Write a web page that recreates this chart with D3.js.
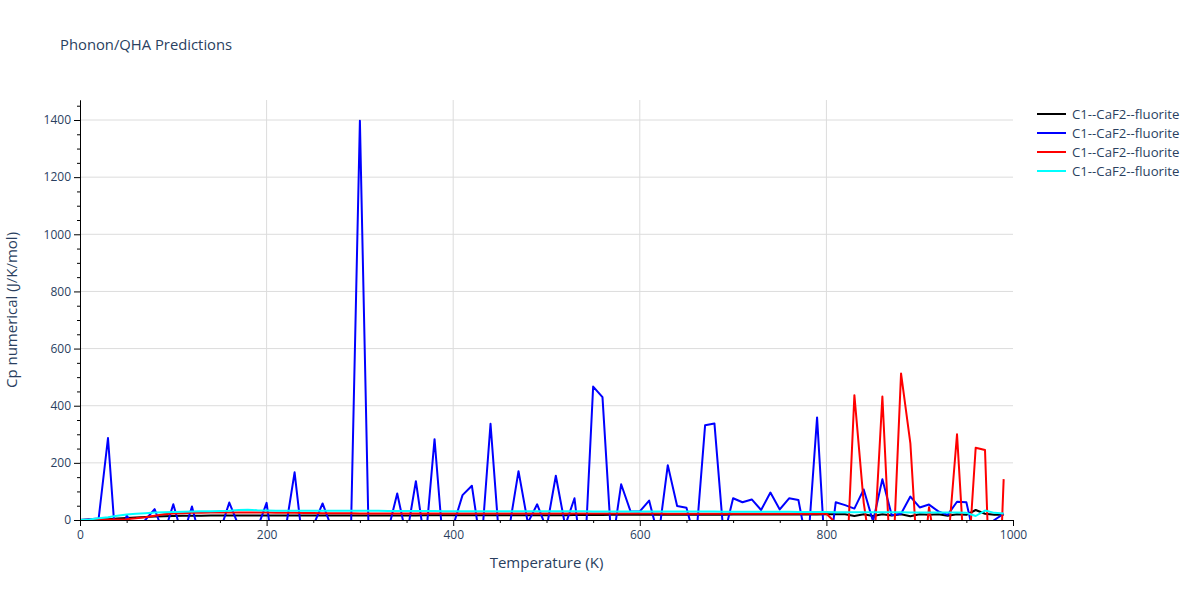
<!DOCTYPE html>
<html>
<head>
<meta charset="utf-8">
<script src="https://cdn.jsdelivr.net/npm/d3@7"></script>
<style>
  body { margin: 0; background: #fff; }
  svg { font-family: "Open Sans", verdana, arial, sans-serif; }
</style>
</head>
<body>
<svg id="chart" width="1200" height="600"></svg>
<script>
// ---- data ----
const temperatures = d3.range(0, 1000, 10);
const seriesNames = ["C1--CaF2--fluorite", "C1--CaF2--fluorite", "C1--CaF2--fluorite", "C1--CaF2--fluorite"];
const seriesColors = ["#000000", "#0000ff", "#ff0000", "#00ffff"];

const cpBlack = [0,0.5,1.5,3,5,7,9,10.5,12,13, 14,14.5,15,15,15.5,15.5,16,16,16,16,
  16,16,16,16,16,16,16,16,16,16, 16,16,16,16,16,16,16,16.5,16.5,16.5,
  16.5,16.5,16.5,16.5,17,17,17,17,17,17, 17,17,17,17.5,17.5,17.5,17.5,18,18,18,
  18,18,18,18,18,18.5,18.5,18.5,18.5,18.5, 19,19,19,19,19,19,19,19.5,19.5,19.5,
  20,20,20,14,20,14,20,16,20,13, 20,18,20,15,20,18,35,22,18,18];

const cpBlue = [0,3,5,287,-162,17,-40,0,38,-50, 55,-60,47,-80,-30,-40,61,-20,-50,-30,
  60,-180,-40,167,-120,-20,58,-30,-60,-100, 1397,-150,-20,-40,93,-60,136,-90,283,-120,
  -20,87,120,-100,337,-100,-30,171,-10,55, -30,155,-20,76,-200,467,430,-100,125,31,
  30,68,-60,192,49,43,-80,332,338,-60, 76,62,72,35,96,37,76,70,-100,359,
  -200,62,52,40,107,-5,143,17,22,82, 44,54,30,18,64,62,-80,-30,0,22];

const cpRed = [0,0.5,1,1.5,2,3,6,10,15,20, 23,24,25,25.5,26,26,26,26.5,26.5,26,
  26,25.5,25,25,24.5,24.5,24,24,23.5,23.5, 23,23,23,23,23,23,23,23,23,23,
  23,23,23,23,23,23,23,23,23,23, 23,23,22.5,22.5,22.5,22.5,22.5,22.5,22.5,22.5,
  22.5,22.5,22.5,22,22,22,22,22,22,22, 22,22,22,22,22,22,22,22,22,22,
  22,-10,-290,437,60,-160,432,-250,513,268, -268,45,-150,-100,300,-250,253,245,-700,143];

const cpCyan = [0,2,6,10,15,19,22,24,26,27, 28,29,30,30.5,31,31.5,32,35,36,34,
  33,32,32,32,32,32,32,32,32,32, 32,32,32,31.5,31.5,31.5,31.5,31.5,31.5,31,
  31,31,31,31,31,31,31,31,31,31, 30.5,30.5,30.5,30.5,30.5,30,30,30,30,30,
  30,30,30,30,29.5,29.5,29.5,29.5,29.5,29, 29,29,29,28.5,28.5,28.5,28.5,28,28,28,
  28,27.5,27.5,27,27,27,27,27,27,26.5, 26.5,26.5,26.5,26,26,25,14,33,25,23];

const xTicks = [0, 200, 400, 600, 800, 1000];
const yTicks = [0, 200, 400, 600, 800, 1000, 1200, 1400];
const titleText = "Phonon/QHA Predictions";
const xTitle = "Temperature (K)";
const yTitle = "Cp numerical (J/K/mol)";

const seriesValues = [cpBlack, cpBlue, cpRed, cpCyan];

// ---- layout ----
const svg = d3.select("#chart");
const plot = { left: 80, right: 1013, top: 100, bottom: 520 };
const textColor = "#2a3f5f";
const gridColor = "#dcdcdc";

const x = d3.scaleLinear().domain([0, 1000]).range([plot.left, plot.right]);
const y = d3.scaleLinear().domain([0, 1470]).range([plot.bottom, plot.top]);

// grid
const gridG = svg.append("g");
gridG.selectAll("line.gx").data(xTicks.filter(t => t > 0 && t < 1000)).enter().append("line")
  .attr("x1", d => x(d)).attr("x2", d => x(d))
  .attr("y1", plot.top).attr("y2", plot.bottom)
  .attr("stroke", gridColor).attr("stroke-width", 1);
gridG.selectAll("line.gy").data(yTicks.filter(t => t > 0)).enter().append("line")
  .attr("x1", plot.left).attr("x2", plot.right)
  .attr("y1", d => y(d)).attr("y2", d => y(d))
  .attr("stroke", gridColor).attr("stroke-width", 1);

// clip
svg.append("clipPath").attr("id", "clip").append("rect")
  .attr("x", plot.left).attr("y", plot.top)
  .attr("width", plot.right - plot.left).attr("height", plot.bottom - plot.top);

const line = d3.line().x((d, i) => x(temperatures[i])).y(d => y(d));
const linesG = svg.append("g").attr("clip-path", "url(#clip)");
seriesValues.forEach((vals, k) => {
  linesG.append("path").datum(vals)
    .attr("d", line)
    .attr("fill", "none")
    .attr("stroke", seriesColors[k])
    .attr("stroke-width", 2)
    .attr("stroke-linejoin", "round");
});

// axes
const fmt = d3.format("d");
const xAxis = d3.axisBottom(x).tickValues(xTicks).tickSize(6).tickSizeOuter(0).tickPadding(4).tickFormat(fmt);
const xAxisMinor = d3.axisBottom(x).tickValues(d3.range(50, 1000, 50).filter(v => v % 200 !== 0)).tickSize(3).tickFormat("").tickSizeOuter(0);
const yAxis = d3.axisLeft(y).tickValues(yTicks).tickSize(6).tickSizeOuter(0).tickPadding(3).tickFormat(fmt);
const yAxisMinor = d3.axisLeft(y).tickValues(d3.range(50, 1470, 50).filter(v => v % 200 !== 0)).tickSize(3).tickFormat("").tickSizeOuter(0);

function styleAxis(g) {
  g.select(".domain").attr("stroke", "#000").attr("stroke-width", 1);
  g.selectAll(".tick line").attr("stroke", "#000");
  g.selectAll(".tick text").attr("fill", textColor).style("font-size", "12px")
    .style("font-family", '"Open Sans", verdana, arial, sans-serif');
}

svg.append("g").attr("transform", `translate(0,${plot.bottom})`).call(xAxisMinor).call(styleAxis);
svg.append("g").attr("transform", `translate(0,${plot.bottom})`).call(xAxis).call(styleAxis);
svg.append("g").attr("transform", `translate(${plot.left},0)`).call(yAxisMinor).call(styleAxis);
svg.append("g").attr("transform", `translate(${plot.left},0)`).call(yAxis).call(styleAxis);

// titles
svg.append("text").attr("x", 60).attr("y", 50).text(titleText)
  .attr("fill", textColor).style("font-size", "14.8px");
svg.append("text").attr("x", (plot.left + plot.right) / 2).attr("y", 568)
  .attr("text-anchor", "middle").text(xTitle)
  .attr("fill", textColor).style("font-size", "15px");
svg.append("text")
  .attr("transform", `translate(17,${(plot.top + plot.bottom) / 2}) rotate(-90)`)
  .attr("text-anchor", "middle").text(yTitle)
  .attr("fill", textColor).style("font-size", "15px");

// legend
const legend = svg.append("g");
seriesNames.forEach((name, k) => {
  const ly = 114 + k * 19;
  legend.append("line").attr("x1", 1037).attr("x2", 1066).attr("y1", ly).attr("y2", ly)
    .attr("stroke", seriesColors[k]).attr("stroke-width", 2);
  legend.append("text").attr("x", 1072).attr("y", ly + 4.5).text(name)
    .attr("fill", textColor).style("font-size", "13.2px");
});
</script>
</body>
</html>
